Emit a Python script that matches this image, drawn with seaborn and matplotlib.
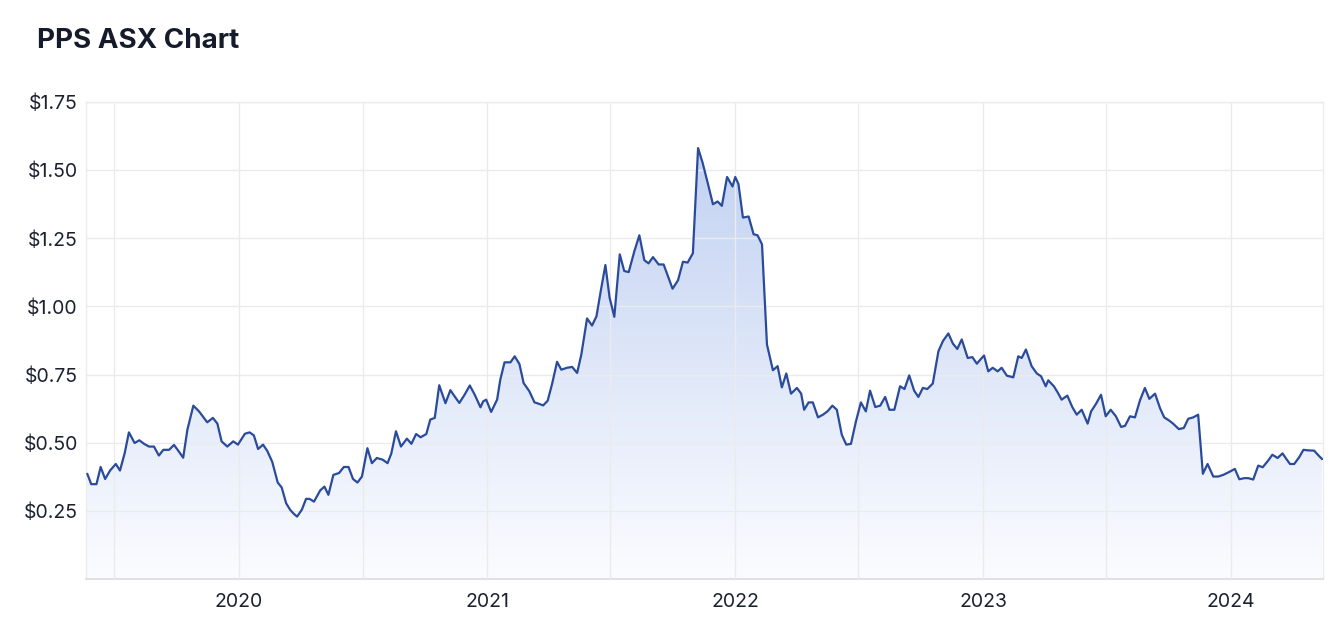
import numpy as np
import pandas as pd
import seaborn as sns
import matplotlib.pyplot as plt
import matplotlib.dates as mdates
from matplotlib.colors import LinearSegmentedColormap

# weekly closes, position given as decimal year
year_pos = [
    2019.388, 2019.404, 2019.425, 2019.442, 2019.460, 2019.480, 2019.503, 2019.520,
    2019.539, 2019.556, 2019.579, 2019.598, 2019.617, 2019.637, 2019.657, 2019.677,
    2019.695, 2019.718, 2019.738, 2019.755, 2019.775, 2019.792, 2019.816, 2019.839,
    2019.872, 2019.895, 2019.913, 2019.930, 2019.953, 2019.977, 2019.996, 2020.024,
    2020.043, 2020.060, 2020.077, 2020.097, 2020.114, 2020.134, 2020.156, 2020.172,
    2020.190, 2020.206, 2020.220, 2020.234, 2020.253, 2020.270, 2020.284, 2020.302,
    2020.327, 2020.344, 2020.360, 2020.380, 2020.403, 2020.422, 2020.441, 2020.459,
    2020.477, 2020.495, 2020.517, 2020.535, 2020.555, 2020.578, 2020.598, 2020.613,
    2020.632, 2020.652, 2020.676, 2020.694, 2020.713, 2020.731, 2020.754, 2020.770,
    2020.788, 2020.806, 2020.831, 2020.851, 2020.868, 2020.887, 2020.908, 2020.929,
    2020.949, 2020.972, 2020.983, 2020.995, 2021.015, 2021.039, 2021.052, 2021.069,
    2021.093, 2021.110, 2021.129, 2021.146, 2021.169, 2021.190, 2021.207, 2021.225,
    2021.243, 2021.261, 2021.281, 2021.298, 2021.321, 2021.342, 2021.362, 2021.379,
    2021.402, 2021.422, 2021.440, 2021.456, 2021.476, 2021.493, 2021.512, 2021.534,
    2021.552, 2021.570, 2021.593, 2021.613, 2021.633, 2021.650, 2021.668, 2021.691,
    2021.711, 2021.729, 2021.747, 2021.769, 2021.789, 2021.808, 2021.829, 2021.850,
    2021.868, 2021.890, 2021.910, 2021.929, 2021.946, 2021.967, 2021.989, 2022.000,
    2022.013, 2022.031, 2022.054, 2022.074, 2022.090, 2022.108, 2022.128, 2022.152,
    2022.171, 2022.188, 2022.206, 2022.225, 2022.249, 2022.266, 2022.278, 2022.296,
    2022.313, 2022.334, 2022.354, 2022.372, 2022.392, 2022.410, 2022.430, 2022.448,
    2022.467, 2022.487, 2022.507, 2022.527, 2022.544, 2022.565, 2022.585, 2022.605,
    2022.622, 2022.642, 2022.665, 2022.683, 2022.702, 2022.722, 2022.739, 2022.757,
    2022.775, 2022.797, 2022.820, 2022.838, 2022.860, 2022.878, 2022.896, 2022.914,
    2022.938, 2022.957, 2022.975, 2022.989, 2023.004, 2023.021, 2023.039, 2023.059,
    2023.075, 2023.096, 2023.122, 2023.142, 2023.156, 2023.173, 2023.196, 2023.217,
    2023.234, 2023.253, 2023.263, 2023.286, 2023.302, 2023.317, 2023.340, 2023.360,
    2023.378, 2023.398, 2023.422, 2023.436, 2023.456, 2023.476, 2023.495, 2023.515,
    2023.536, 2023.557, 2023.573, 2023.593, 2023.613, 2023.633, 2023.653, 2023.671,
    2023.694, 2023.714, 2023.731, 2023.750, 2023.767, 2023.790, 2023.810, 2023.828,
    2023.848, 2023.868, 2023.887, 2023.906, 2023.929, 2023.949, 2023.969, 2023.996,
    2024.016, 2024.034, 2024.054, 2024.070, 2024.090, 2024.110, 2024.128, 2024.148,
    2024.167, 2024.188, 2024.208, 2024.222, 2024.238, 2024.255, 2024.275, 2024.292,
    2024.310, 2024.335, 2024.351, 2024.367,
]
price = [
    0.386, 0.348, 0.348, 0.411, 0.367, 0.398, 0.422, 0.398,
    0.462, 0.538, 0.499, 0.509, 0.496, 0.486, 0.486, 0.453,
    0.474, 0.474, 0.492, 0.471, 0.445, 0.548, 0.636, 0.615,
    0.575, 0.591, 0.570, 0.505, 0.486, 0.505, 0.493, 0.533,
    0.538, 0.527, 0.477, 0.493, 0.470, 0.430, 0.354, 0.336,
    0.278, 0.254, 0.240, 0.229, 0.254, 0.294, 0.294, 0.284,
    0.325, 0.339, 0.309, 0.382, 0.389, 0.411, 0.411, 0.367,
    0.354, 0.376, 0.480, 0.425, 0.444, 0.438, 0.425, 0.460,
    0.542, 0.486, 0.515, 0.496, 0.532, 0.520, 0.532, 0.585,
    0.591, 0.711, 0.645, 0.693, 0.670, 0.646, 0.676, 0.710,
    0.676, 0.630, 0.652, 0.658, 0.613, 0.658, 0.732, 0.795,
    0.795, 0.817, 0.789, 0.719, 0.689, 0.648, 0.643, 0.637,
    0.654, 0.716, 0.797, 0.768, 0.775, 0.778, 0.756, 0.824,
    0.956, 0.930, 0.964, 1.050, 1.152, 1.032, 0.962, 1.191,
    1.130, 1.126, 1.203, 1.261, 1.170, 1.158, 1.181, 1.154,
    1.154, 1.109, 1.065, 1.096, 1.164, 1.161, 1.195, 1.581,
    1.528, 1.449, 1.375, 1.385, 1.369, 1.475, 1.440, 1.475,
    1.449, 1.326, 1.330, 1.265, 1.261, 1.228, 0.860, 0.766,
    0.781, 0.703, 0.754, 0.680, 0.701, 0.680, 0.621, 0.648,
    0.648, 0.593, 0.603, 0.615, 0.636, 0.621, 0.529, 0.493,
    0.496, 0.578, 0.648, 0.615, 0.691, 0.631, 0.636, 0.668,
    0.621, 0.621, 0.707, 0.697, 0.747, 0.691, 0.668, 0.701,
    0.697, 0.717, 0.836, 0.873, 0.901, 0.864, 0.844, 0.879,
    0.811, 0.814, 0.790, 0.805, 0.820, 0.762, 0.775, 0.762,
    0.775, 0.746, 0.740, 0.817, 0.811, 0.842, 0.781, 0.754,
    0.744, 0.707, 0.729, 0.707, 0.683, 0.658, 0.673, 0.631,
    0.603, 0.621, 0.570, 0.615, 0.643, 0.676, 0.597, 0.621,
    0.597, 0.558, 0.562, 0.597, 0.593, 0.655, 0.701, 0.661,
    0.680, 0.627, 0.593, 0.582, 0.570, 0.550, 0.554, 0.588,
    0.593, 0.603, 0.386, 0.422, 0.376, 0.376, 0.382, 0.394,
    0.404, 0.366, 0.370, 0.370, 0.365, 0.416, 0.410, 0.432,
    0.456, 0.444, 0.461, 0.442, 0.422, 0.422, 0.447, 0.474,
    0.472, 0.471, 0.455, 0.440,
]
y_ticks = [0.25, 0.50, 0.75, 1.00, 1.25, 1.50, 1.75]
x_range = [2019.383, 2024.371]


def to_date(t):
    yr = int(np.floor(t))
    start = pd.Timestamp(year=yr, month=1, day=1)
    length = (pd.Timestamp(year=yr + 1, month=1, day=1) - start).days
    return start + pd.Timedelta(days=(t - yr) * length)


df = pd.DataFrame({"date": [to_date(t) for t in year_pos], "price": price})

sns.set_theme(style="white")
plt.rcParams["font.family"] = ["Inter", "DejaVu Sans"]

fig = plt.figure(figsize=(13.34, 6.42), dpi=100)
ax = fig.add_axes([0.0645, 0.0981, 0.9273, 0.7430])

# gradient area under the line
area = ax.fill_between(df["date"], df["price"], 0, color="none", lw=0)
xnum = mdates.date2num(df["date"])
fade = LinearSegmentedColormap.from_list("fade", ["#fbfcff", "#c2d2f2"])
grad = np.linspace(0, 1, 256).reshape(-1, 1)
img = ax.imshow(grad, cmap=fade, aspect="auto", origin="lower",
                extent=[xnum.min(), xnum.max(), 0, max(price)], zorder=1)
img.set_clip_path(area.get_paths()[0], transform=ax.transData)

sns.lineplot(data=df, x="date", y="price", color="#2a4b9b", linewidth=1.6,
             ax=ax, zorder=3)

ax.set_xlim(to_date(x_range[0]), to_date(x_range[1]))
ax.set_ylim(0, 1.75)
ax.set_yticks(y_ticks)
ax.set_yticklabels([f"${v:.2f}" for v in y_ticks])
ax.xaxis.set_major_locator(mdates.YearLocator())
ax.xaxis.set_major_formatter(mdates.DateFormatter("%Y"))
ax.xaxis.set_minor_locator(mdates.MonthLocator(bymonth=7))

ax.set_axisbelow(False)
ax.grid(True, which="major", color="#ebebeb", linewidth=1)
ax.grid(True, which="minor", axis="x", color="#ebebeb", linewidth=1)
ax.set_xlabel("")
ax.set_ylabel("")
ax.tick_params(axis="both", which="both", length=0, labelsize=14,
               colors="#1c2130")
ax.tick_params(axis="y", pad=6)
ax.tick_params(axis="x", pad=10)
for side in ["left", "right", "top"]:
    ax.spines[side].set_color("#ececec")
    ax.spines[side].set_linewidth(1)
ax.spines["bottom"].set_color("#dcdcdc")
ax.spines["bottom"].set_linewidth(1.2)

fig.text(37 / 1334, 1 - 41 / 642, "PPS ASX Chart", fontsize=20,
         fontweight="bold", color="#161b2b", va="center", ha="left")

fig.savefig("out.png", dpi=100)
